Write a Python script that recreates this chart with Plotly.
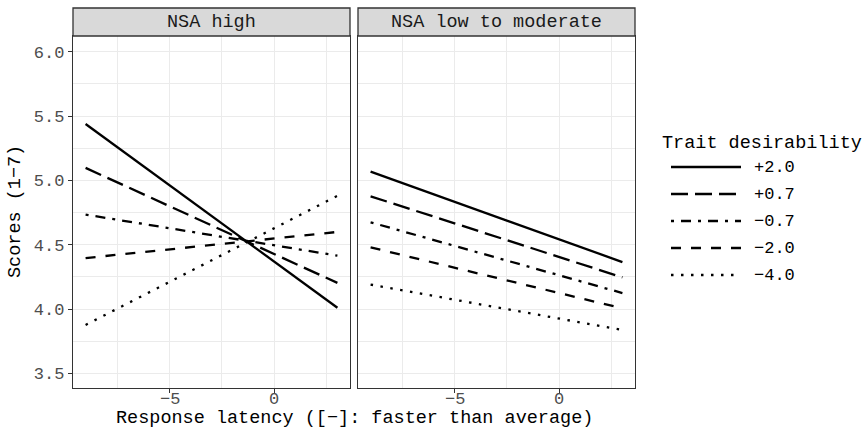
import plotly.graph_objects as go

# ---------------- data ----------------
latency = [-9, 3]
panels = ["NSA high", "NSA low to moderate"]
trait_levels = ["+2.0", "+0.7", "\u22120.7", "\u22122.0", "\u22124.0"]
# scores at latency = -9 and 3
nsa_high = {
    "+2.0": [5.438, 4.010],
    "+0.7": [5.097, 4.203],
    "\u22120.7": [4.734, 4.415],
    "\u22122.0": [4.396, 4.599],
    "\u22124.0": [3.876, 4.880],
}
nsa_low = {
    "+2.0": [5.068, 4.365],
    "+0.7": [4.876, 4.246],
    "\u22120.7": [4.674, 4.124],
    "\u22122.0": [4.479, 4.005],
    "\u22124.0": [4.190, 3.837],
}
y_ticks = [3.5, 4.0, 4.5, 5.0, 5.5, 6.0]
x_ticks = [-5, 0]
x_tick_labels = ["\u22125", "0"]

# ---------------- styles ----------------
FONT = "Courier New, Courier, Nimbus Mono PS, FreeMono, Liberation Mono, monospace"
dashes = {
    "+2.0": "solid",
    "+0.7": "17px,7px",
    "\u22120.7": "3px,7px,10px,7px",
    "\u22122.0": "10px,10px",
    "\u22124.0": "2.5px,7.5px",
}
LW = 2.3
W, H = 866, 435
L, R, T, B = 73, 635, 8, 388  # plot area in pixels
STRIP_BOTTOM = 36


def px_x(p):
    return (p - L) / (R - L)


def px_y(q):
    return (B - q) / (B - T)


fig = go.Figure()
for data, xa, ya in [(nsa_high, "x", "y"), (nsa_low, "x2", "y2")]:
    for lvl in trait_levels:
        fig.add_trace(go.Scatter(
            x=latency, y=data[lvl], mode="lines", xaxis=xa, yaxis=ya,
            line=dict(color="black", width=LW, dash=dashes[lvl]),
            showlegend=False, hoverinfo="skip"))

ydom = [0, px_y(STRIP_BOTTOM)]
xrange_ = [-9.6, 3.6]
yrange_ = [3.386, 6.122]
grid = "#EBEBEB"
border = "#333333"
tickfont = dict(family=FONT, size=17, color="#4D4D4D")

common_x = dict(range=xrange_, tickvals=x_ticks, showgrid=True, gridcolor=grid, gridwidth=1.3,
                minor=dict(tickvals=[-7.5, -2.5, 2.5], showgrid=True, gridcolor=grid, gridwidth=0.7),
                zeroline=False, showline=True, mirror=True, linecolor=border, linewidth=1.3,
                ticks="outside", ticklen=4, tickcolor=border, tickwidth=1.2, showticklabels=False)
common_y = dict(range=yrange_, domain=ydom, tickvals=y_ticks, ticktext=[f"{v:.1f}" for v in y_ticks],
                showgrid=True, gridcolor=grid, gridwidth=1.3,
                minor=dict(tickvals=[3.75, 4.25, 4.75, 5.25, 5.75], showgrid=True, gridcolor=grid, gridwidth=0.7),
                zeroline=False, showline=True, mirror=True, linecolor=border, linewidth=1.3,
                tickcolor=border, tickwidth=1.2, tickfont=tickfont)

fig.update_layout(
    width=W, height=H,
    margin=dict(l=L, r=W - R, t=T, b=H - B, pad=0),
    paper_bgcolor="white", plot_bgcolor="white",
    font=dict(family=FONT, color="black"),
    xaxis=dict(domain=[0, px_x(350)], anchor="y", **common_x),
    xaxis2=dict(domain=[px_x(358), 1], anchor="y2", **common_x),
    yaxis=dict(anchor="x", ticks="outside", ticklen=4, showticklabels=True, **common_y),
    yaxis2=dict(anchor="x2", ticks="", showticklabels=False, **common_y),
    showlegend=False,
)

shapes = []
annotations = []
# x tick labels (placed through each panel's x axis)
for xref in ["x", "x2"]:
    for tv, tl in zip(x_ticks, x_tick_labels):
        annotations.append(dict(text=tl, xref=xref, yref="paper", x=tv, y=px_y(399),
                                showarrow=False, xanchor="center", yanchor="middle",
                                font=tickfont))
# facet strips
for i, (x0, x1) in enumerate([(L, 350), (358, R)]):
    shapes.append(dict(type="rect", xref="paper", yref="paper", x0=px_x(x0), x1=px_x(x1),
                       y0=px_y(STRIP_BOTTOM), y1=px_y(T), fillcolor="#D9D9D9",
                       line=dict(color=border, width=1.3), layer="above"))
    annotations.append(dict(text=panels[i], xref="paper", yref="paper", x=px_x((x0 + x1) / 2),
                            y=px_y((T + STRIP_BOTTOM) / 2), showarrow=False, xanchor="center",
                            yanchor="middle", font=dict(family=FONT, size=18.5, color="#1A1A1A")))

# axis titles
annotations.append(dict(text="Response latency ([\u2212]: faster than average)", xref="paper", yref="paper",
                        x=0.5, y=px_y(419), showarrow=False, xanchor="center", yanchor="middle",
                        font=dict(family=FONT, size=18.5, color="black")))
annotations.append(dict(text="Scores (1\u22127)", xref="paper", yref="paper", x=px_x(15), y=px_y(212),
                        textangle=-90, showarrow=False, xanchor="center", yanchor="middle",
                        font=dict(family=FONT, size=18.5, color="black")))

# legend (drawn manually to match key length)
annotations.append(dict(text="Trait desirability", xref="paper", yref="paper", x=px_x(660), y=px_y(143),
                        showarrow=False, xanchor="left", yanchor="middle",
                        font=dict(family=FONT, size=18.5, color="black")))
key_y = [167, 194, 221, 248, 275]
for lvl, ky in zip(trait_levels, key_y):
    shapes.append(dict(type="line", xref="paper", yref="paper", x0=px_x(671), x1=px_x(741),
                       y0=px_y(ky), y1=px_y(ky), line=dict(color="black", width=LW, dash=dashes[lvl])))
    annotations.append(dict(text=lvl, xref="paper", yref="paper", x=px_x(752), y=px_y(ky),
                            showarrow=False, xanchor="left", yanchor="middle",
                            font=dict(family=FONT, size=17, color="black")))

fig.update_layout(shapes=shapes, annotations=annotations)
fig.write_html("out.html")
